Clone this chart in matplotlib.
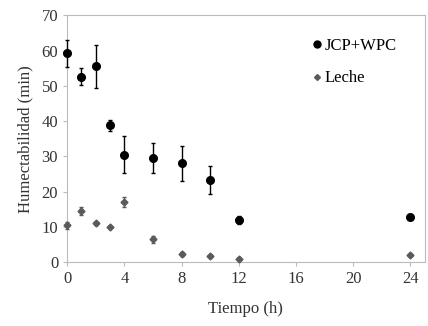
import numpy as np
import matplotlib
matplotlib.use('Agg')
import matplotlib.pyplot as plt
from matplotlib.lines import Line2D

plt.rcParams['font.family'] = ['Liberation Serif', 'DejaVu Serif']

# tiempo (h)
tiempo = [0, 1, 2, 3, 4, 6, 8, 10, 12, 24]

# humectabilidad (min)
jcp_wpc = [59.2, 52.6, 55.5, 38.8, 30.5, 29.5, 28.0, 23.3, 12.0, 12.8]
jcp_wpc_err = [3.8, 2.5, 6.0, 1.5, 5.2, 4.3, 5.0, 4.0, 1.2, 0.4]
leche = [10.5, 14.5, 11.0, 10.0, 17.0, 6.5, 2.3, 1.8, 1.0, 2.0]
leche_err = [1.0, 1.0, 0.5, 0.3, 1.5, 1.0, 0.5, 0.3, 0.3, 0.3]

xticks = [0, 4, 8, 12, 16, 20, 24]
yticks = [0, 10, 20, 30, 40, 50, 60, 70]

fig = plt.figure(figsize=(4.28, 3.26), dpi=100)
ax = fig.add_axes([0.157, 0.196, 0.835, 0.757])

for x, y, e, fmt, c, ms in [(tiempo, jcp_wpc, jcp_wpc_err, 'o', 'black', 5.5),
                            (tiempo, leche, leche_err, 'D', '#5a5a5a', 3.5)]:
    cont = ax.errorbar(x, y, yerr=e, fmt=fmt, color=c, markersize=ms,
                       elinewidth=1.0, capsize=1.5, zorder=3)
    for art in cont.get_children():
        art.set_clip_on(False)

ax.set_xlim(0, 25)
ax.set_ylim(0, 70)
ax.set_xticks(xticks)
ax.set_yticks(yticks)
ax.tick_params(labelsize=12, length=3, color='#bbbbbb', colors='#333333')
for s in ax.spines.values():
    s.set_color('#bbbbbb')

ax.set_xlabel('Tiempo (h)', fontsize=12, color='#333333', labelpad=10)
ax.set_ylabel('Humectabilidad (min)', fontsize=12, color='#333333', labelpad=6)

handles = [Line2D([], [], ls='', marker='o', color='black', markersize=5),
           Line2D([], [], ls='', marker='D', color='#5a5a5a', markersize=3)]
ax.legend(handles, ['JCP+WPC', 'Leche'], loc='upper right', frameon=False,
          fontsize=12, handletextpad=0.0, handlelength=1.0, labelspacing=1.0,
          bbox_to_anchor=(0.965, 0.97))

fig.savefig('out.png', dpi=100)
